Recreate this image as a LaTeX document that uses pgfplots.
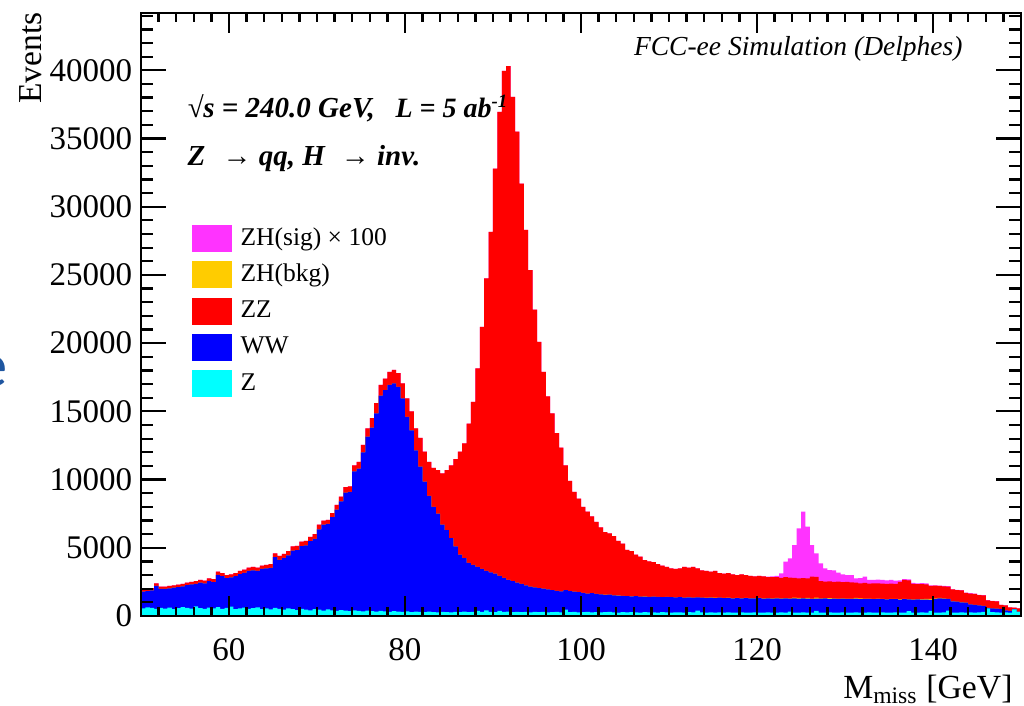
\documentclass[border=0pt]{standalone}
\usepackage{fontspec}
\setmainfont{Liberation Serif}
\newfontfamily\slidefont{Carlito}
\usepackage{pgfplots}
\usepackage{pgfplotstable}
\pgfplotsset{compat=1.18}

\definecolor{csig}{RGB}{255,51,255}
\definecolor{chb}{RGB}{255,204,0}
\definecolor{czz}{RGB}{255,0,0}
\definecolor{cww}{RGB}{0,0,255}
\definecolor{cz}{RGB}{0,255,255}
\definecolor{slideblue}{RGB}{31,86,160}

% 0.5 GeV bins, left edges; columns are the stacked heights (top of each layer)
% stack from bottom: Z, WW, ZH(bkg), ZZ, ZH(sig)x100
\pgfplotstableread{
x z ww hb zz sig
50.0 560 1780 1780 1950 1950
50.5 640 1820 1820 2000 2000
51.0 600 1870 1870 2050 2050
51.5 520 2200 2200 2400 2400
52.0 590 1990 1990 2150 2150
52.5 540 1980 1980 2150 2150
53.0 620 2030 2030 2200 2200
53.5 510 2080 2080 2250 2250
54.0 580 2120 2120 2300 2300
54.5 660 2170 2170 2350 2350
55.0 600 2260 2260 2450 2450
55.5 540 2310 2310 2500 2500
56.0 700 2350 2350 2550 2550
56.5 580 2450 2450 2650 2650
57.0 520 2400 2400 2600 2600
57.5 620 2550 2550 2750 2750
58.0 560 2480 2480 2700 2700
58.5 660 3020 3020 3250 3250
59.0 520 2930 2930 3150 3150
59.5 600 2780 2780 3000 3000
60.0 680 2830 2830 3050 3050
60.5 500 2920 2920 3150 3150
61.0 560 3070 3070 3300 3300
61.5 620 3160 3160 3400 3400
62.0 520 3300 3300 3550 3550
62.5 580 3350 3350 3600 3600
63.0 640 3300 3300 3550 3550
63.5 500 3450 3450 3700 3700
64.0 560 3490 3490 3750 3750
64.5 480 3530 3530 3800 3800
65.0 600 4320 4320 4600 4600
65.5 520 4120 4120 4400 4400
66.0 460 4260 4260 4550 4550
66.5 560 4450 4450 4750 4750
67.0 500 4790 4790 5100 5100
67.5 440 4830 4830 5150 5150
68.0 520 5120 5120 5450 5450
68.5 460 5180 5180 5500 5500
69.0 420 5480 5480 5800 5800
69.5 500 5650 5650 6000 6000
70.0 460 6350 6350 6700 6700
70.5 400 6700 6700 7000 7000
71.0 480 6750 6750 7050 7050
71.5 420 7250 7250 7550 7550
72.0 380 7800 7800 8150 8150
72.5 440 8400 8400 8750 8750
73.0 400 9050 9050 9450 9450
73.5 360 9100 9100 9500 9500
74.0 420 10600 10600 11050 11050
74.5 380 10800 10800 11300 11300
75.0 340 12000 12000 12550 12550
75.5 400 13150 13150 13750 13750
76.0 360 13800 13800 14500 14500
76.5 320 14850 14850 15600 15600
77.0 380 16150 16150 16950 16950
77.5 340 16550 16550 17400 17400
78.0 300 16950 16950 17900 17900
78.5 360 17050 17050 18050 18050
79.0 320 16800 16800 17800 17800
79.5 300 15950 15950 17050 17050
80.0 340 14600 14600 15950 15950
80.5 280 13600 13600 15000 15000
81.0 320 12150 12150 13750 13750
81.5 300 10950 10950 13050 13050
82.0 280 9850 9850 12050 12050
82.5 320 8800 8800 11300 11300
83.0 290 8000 8000 10850 10850
83.5 270 7500 7500 10700 10700
84.0 300 6700 6700 10450 10450
84.5 280 6300 6300 10700 10700
85.0 260 5700 5700 11050 11050
85.5 300 5100 5100 11500 11500
86.0 280 4500 4500 12050 12050
86.5 320 4250 4250 12650 12650
87.0 280 3900 3900 14100 14100
87.5 300 3750 3750 15700 15700
88.0 380 3600 3600 18150 18150
88.5 300 3450 3450 21200 21200
89.0 420 3300 3300 24750 24750
89.5 300 3200 3200 28150 28150
90.0 280 3100 3100 32800 32800
90.5 380 2950 2950 36950 36950
91.0 300 2800 2800 39950 39950
91.5 320 2650 2650 40300 40300
92.0 280 2550 2550 38050 38050
92.5 300 2450 2450 35500 35500
93.0 280 2350 2350 31700 31700
93.5 300 2250 2250 28300 28300
94.0 260 2150 2150 25350 25350
94.5 300 2100 2100 22450 22450
95.0 280 2050 2050 20100 20100
95.5 300 2000 2000 17900 17900
96.0 260 1950 1950 16100 16100
96.5 280 1900 1900 14850 14850
97.0 300 1850 1850 13400 13400
97.5 270 1800 1800 12350 12350
98.0 460 1900 1900 11050 11050
98.5 280 1820 1820 9900 9900
99.0 300 1780 1780 9100 9100
99.5 260 1750 1750 8600 8600
100.0 280 1700 1700 8000 8000
100.5 300 1650 1650 7650 7650
101.0 270 1680 1680 7300 7300
101.5 290 1620 1620 6900 6900
102.0 260 1580 1580 6500 6500
102.5 280 1550 1560 6150 6150
103.0 300 1560 1560 6050 6050
103.5 270 1520 1520 5850 5850
104.0 250 1500 1510 5500 5500
104.5 280 1480 1480 5300 5300
105.0 260 1460 1460 4850 4850
105.5 290 1440 1450 4750 4750
106.0 270 1450 1450 4500 4500
106.5 250 1420 1420 4350 4350
107.0 280 1430 1440 4100 4100
107.5 260 1400 1400 4000 4000
108.0 270 1420 1420 3950 3950
108.5 250 1400 1410 3800 3800
109.0 280 1380 1380 3700 3700
109.5 260 1400 1400 3600 3600
110.0 250 1380 1390 3500 3500
110.5 270 1360 1360 3450 3450
111.0 260 1380 1390 3500 3500
111.5 250 1350 1350 3600 3600
112.0 280 1370 1380 3550 3550
112.5 260 1340 1340 3600 3600
113.0 390 1360 1370 3500 3500
113.5 260 1340 1340 3350 3350
114.0 250 1330 1350 3300 3300
114.5 270 1350 1360 3250 3250
115.0 250 1320 1340 3300 3300
115.5 260 1340 1350 3150 3150
116.0 240 1310 1330 3100 3100
116.5 260 1330 1340 3150 3150
117.0 250 1300 1320 3050 3050
117.5 240 1320 1330 3000 3000
118.0 260 1300 1310 3050 3050
118.5 250 1310 1330 3000 3000
119.0 240 1290 1310 2950 2950
119.5 260 1300 1310 2900 2900
120.0 250 1310 1330 2950 2950
120.5 240 1280 1300 2900 2900
121.0 260 1300 1320 2850 2880
121.5 250 1280 1300 2850 2900
122.0 240 1300 1330 2850 2950
122.5 260 1270 1290 2800 3130
123.0 250 1290 1310 2850 3980
123.5 330 1280 1300 2820 4230
124.0 250 1300 1350 2800 5200
124.5 240 1270 1330 2760 6430
125.0 260 1290 1310 2780 7650
125.5 250 1280 1330 2750 6550
126.0 240 1260 1280 2880 5200
126.5 380 1280 1350 2860 4600
127.0 250 1270 1290 2550 3860
127.5 240 1290 1310 2520 3500
128.0 260 1260 1320 2540 3370
128.5 250 1280 1300 2500 3350
129.0 240 1250 1270 2520 3180
129.5 260 1270 1290 2480 3050
130.0 250 1260 1280 2500 3000
130.5 240 1250 1270 2460 3000
131.0 260 1270 1330 2450 2760
131.5 250 1240 1290 2400 2780
132.0 240 1260 1280 2420 2880
132.5 260 1250 1270 2380 2650
133.0 250 1230 1250 2400 2640
133.5 240 1250 1270 2390 2660
134.0 260 1240 1260 2380 2640
134.5 250 1220 1240 2360 2620
135.0 240 1240 1260 2370 2640
135.5 260 1230 1250 2350 2600
136.0 250 1210 1230 2500 2620
136.5 240 1230 1250 2640 2700
137.0 360 1220 1240 2620 2680
137.5 250 1200 1220 2350 2420
138.0 240 1220 1240 2340 2400
138.5 260 1210 1230 2330 2410
139.0 250 1200 1250 2320 2390
139.5 380 1190 1260 2200 2250
140.0 250 1250 1300 2220 2240
140.5 240 1300 1330 2200 2230
141.0 260 1280 1290 2180 2210
141.5 400 1250 1260 2150 2190
142.0 250 1080 1090 1950 1960
142.5 240 1050 1060 1900 1920
143.0 260 1000 1010 1880 1900
143.5 250 980 990 1700 1720
144.0 260 850 860 1650 1670
144.5 250 820 820 1620 1640
145.0 260 780 780 1540 1550
145.5 300 740 740 1520 1530
146.0 560 600 600 1150 1160
146.5 280 560 560 1100 1110
147.0 260 540 540 1080 1090
147.5 250 500 500 820 820
148.0 260 420 420 780 780
148.5 240 380 380 640 640
149.0 480 500 500 620 620
149.5 300 330 330 560 560
150.0 300 330 330 560 560
}\data

\begin{document}
\begin{tikzpicture}
\useasboundingbox (-56.4pt,-35.6pt) rectangle (353.2pt,246.4pt);
\begin{axis}[
  scale only axis, width=352pt, height=241.2pt,
  at={(0pt,0pt)}, anchor=south west,
  xmin=50, xmax=150, ymin=0, ymax=44200,
  xtick={40,60,...,160}, ytick={0,5000,...,45000},
  minor x tick num=9, minor y tick num=4,
  axis on top,
  axis line style={line width=0.9pt},
  every tick/.style={black, line width=0.9pt},
  xtick style={/pgfplots/major tick length=8pt, /pgfplots/minor tick length=3.6pt},
  ytick style={/pgfplots/major tick length=10pt, /pgfplots/minor tick length=5pt},
  scaled y ticks=false,
  /pgf/number format/assume math mode=true,
  yticklabel style={/pgf/number format/1000 sep={}},
  xticklabel style={yshift=-5.4pt},
  tick label style={font=\fontsize{13.2pt}{15pt}\selectfont},
  legend style={at={(0.057,0.649)}, anchor=north west, draw=none, fill=none,
    font=\fontsize{10.2pt}{12pt}\selectfont, row sep=3.7pt, inner sep=0pt,
    nodes={inner sep=1pt}},
  legend cell align=left,
  legend image code/.code={\fill[#1] (0pt,-5.4pt) rectangle (16pt,5.4pt); \path (18.6pt,0pt);},
]
\addlegendimage{fill=csig, draw=none}
\addlegendentry{ZH(sig) × 100}
\addlegendimage{fill=chb, draw=none}
\addlegendentry{ZH(bkg)}
\addlegendimage{fill=czz, draw=none}
\addlegendentry{ZZ}
\addlegendimage{fill=cww, draw=none}
\addlegendentry{WW}
\addlegendimage{fill=cz, draw=none}
\addlegendentry{Z}

\addplot[forget plot, const plot mark left, fill=csig, draw=none] table[x=x, y=sig] {\data} \closedcycle;
\addplot[forget plot, const plot mark left, fill=czz, draw=none] table[x=x, y=zz] {\data} \closedcycle;
\addplot[forget plot, const plot mark left, fill=chb, draw=none] table[x=x, y=hb] {\data} \closedcycle;
\addplot[forget plot, const plot mark left, fill=cww, draw=none] table[x=x, y=ww] {\data} \closedcycle;
\addplot[forget plot, const plot mark left, fill=cz, draw=none] table[x=x, y=z] {\data} \closedcycle;
\end{axis}

\node[rotate=90, anchor=base east, inner sep=0pt, font=\fontsize{13.4pt}{15pt}\selectfont] at (-39.6pt,241.6pt) {Events};
\node[anchor=base east, inner sep=0pt, font=\fontsize{13.5pt}{15pt}\selectfont] at (348.8pt,-32.8pt) {M\textsubscript{miss} [GeV]};
\node[anchor=base east, inner sep=0pt, font=\fontsize{11pt}{13pt}\selectfont\itshape] at (328.8pt,224.4pt) {FCC-ee Simulation (Delphes)};
\node[anchor=base west, inner sep=0pt, font=\fontsize{11.6pt}{13pt}\selectfont\bfseries\itshape] at (18.4pt,199.6pt) {√s = 240.0 GeV,};
\node[anchor=base west, inner sep=0pt, font=\fontsize{11.2pt}{13pt}\selectfont\bfseries\itshape] at (101.6pt,199.6pt) {L = 5 ab\textsuperscript{\fontsize{7.5pt}{8pt}\selectfont -1}};
\node[anchor=base west, inner sep=0pt, font=\fontsize{11.6pt}{13pt}\selectfont\bfseries\itshape] at (18.4pt,180.4pt) {Z\hspace{0.6em}→ qq, H\hspace{0.55em}→ inv.};
\node[anchor=east, inner sep=0pt, text=slideblue, font=\slidefont\fontsize{25pt}{25pt}\selectfont] at (-53.2pt,97.6pt) {e};
\end{tikzpicture}
\end{document}
